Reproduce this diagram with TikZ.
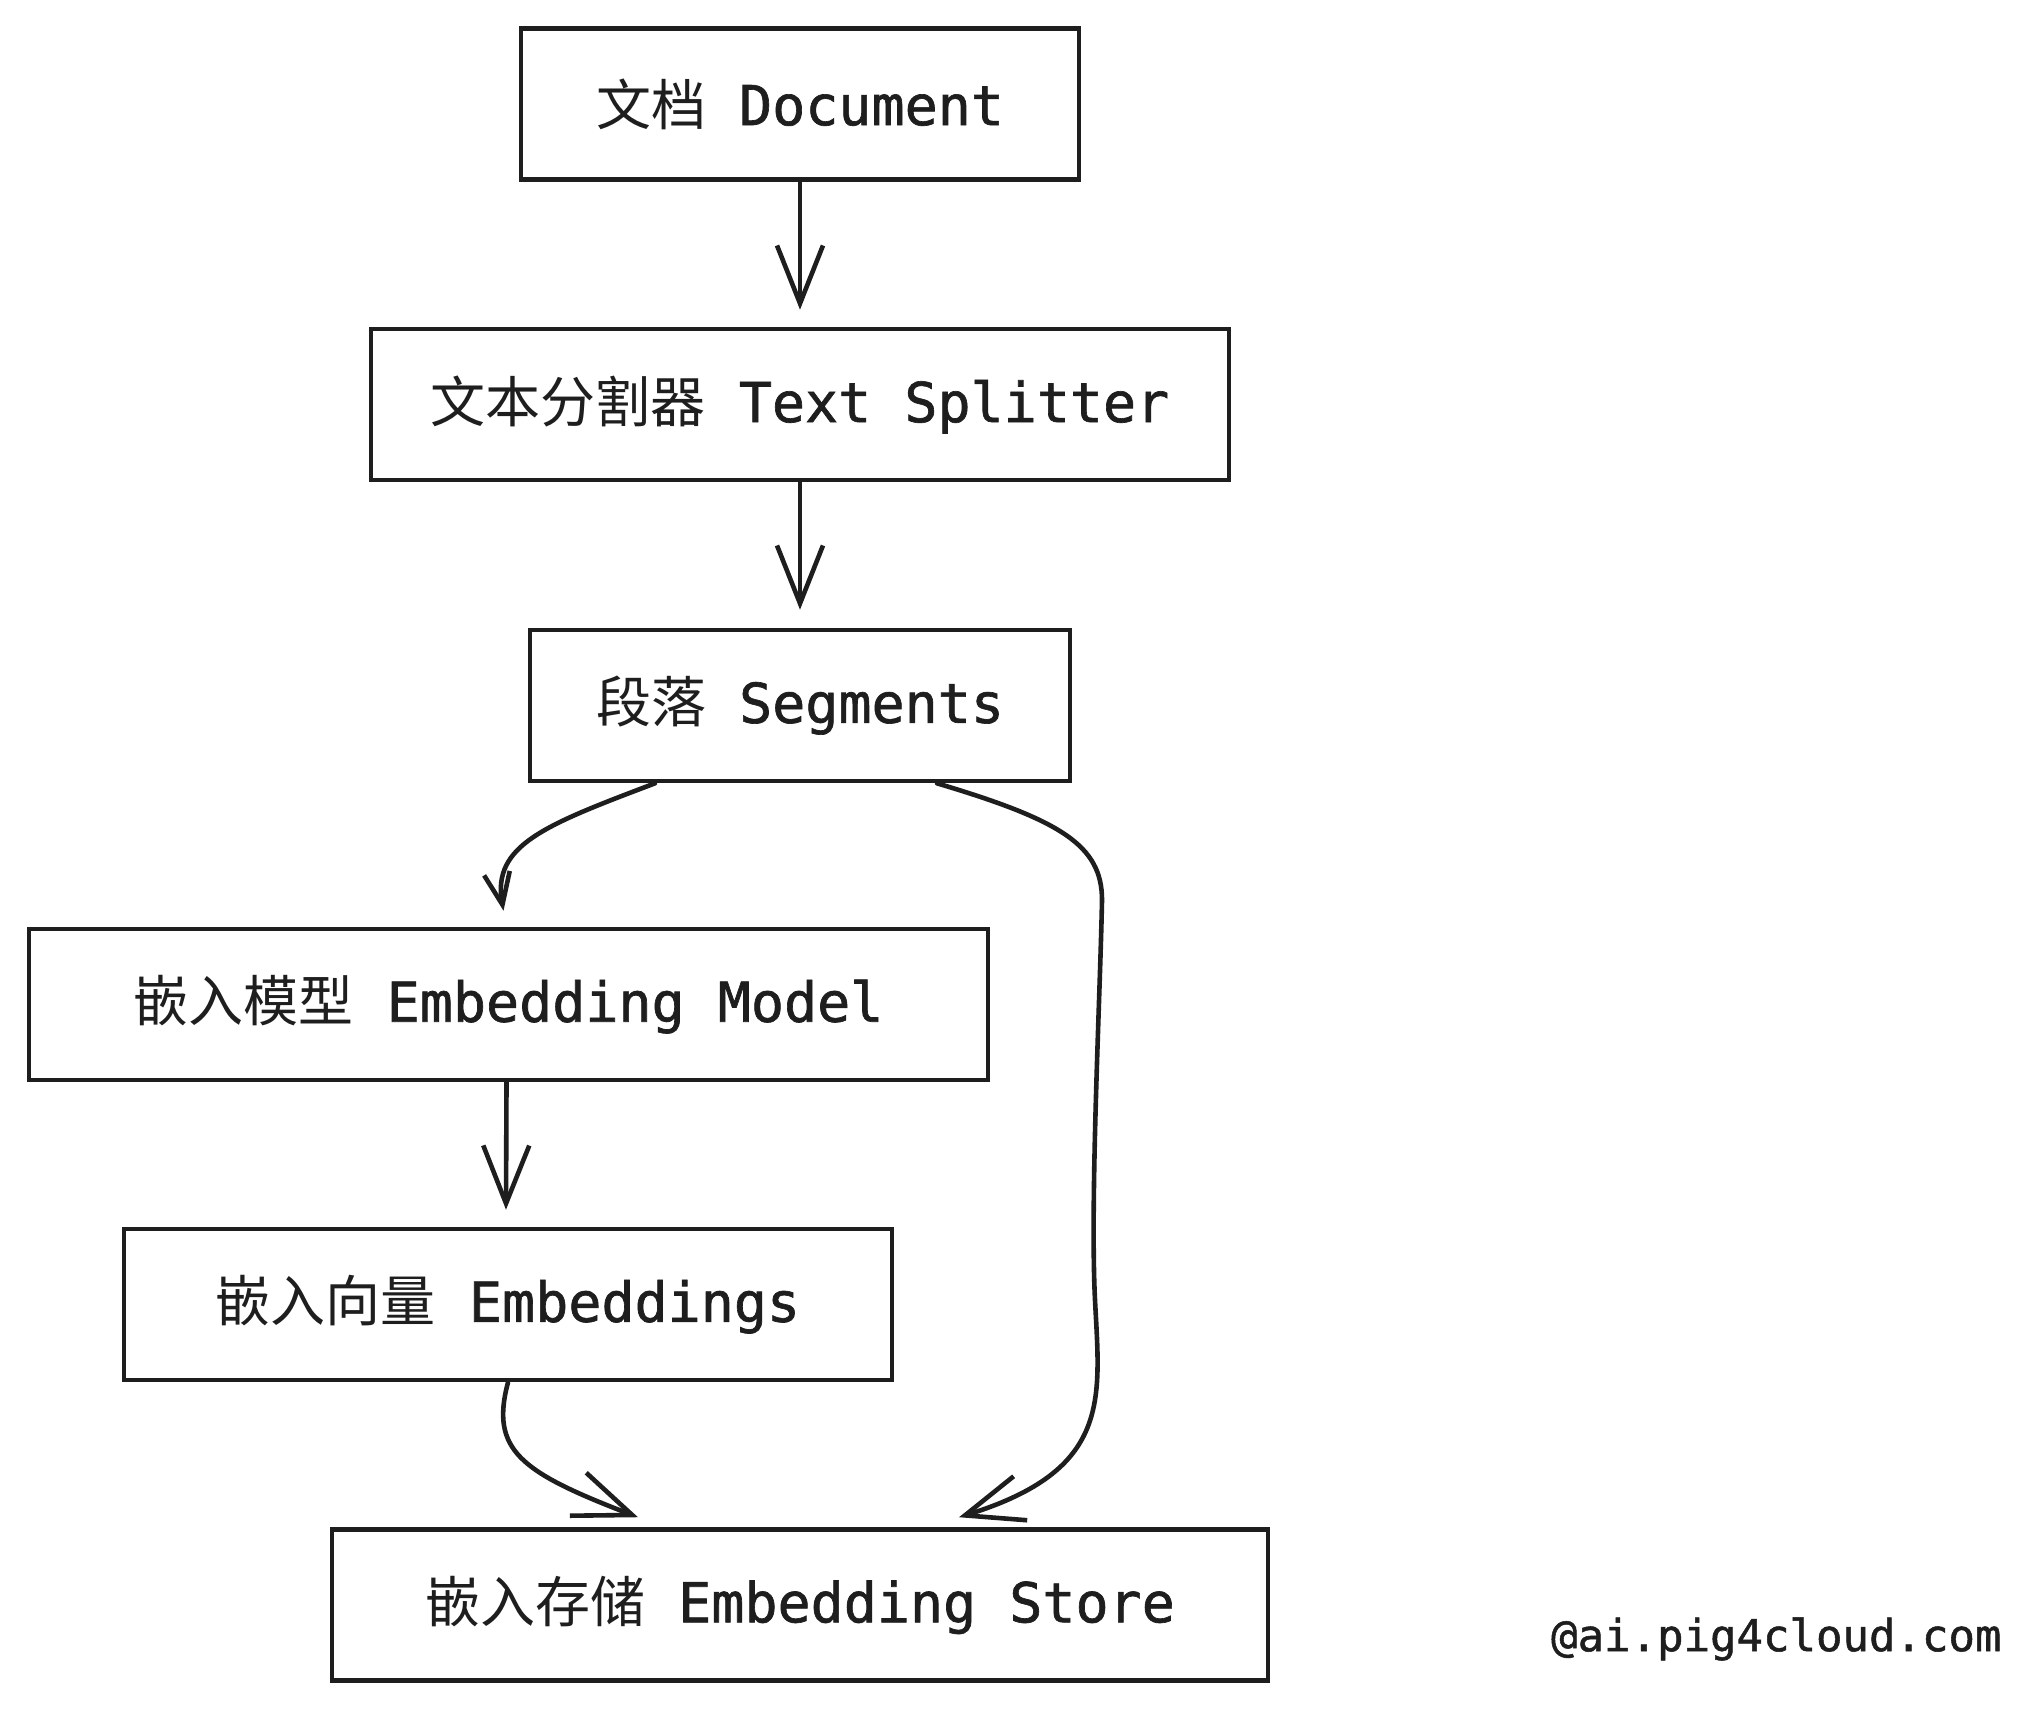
\documentclass[tikz,border=0pt]{standalone}
\usepackage{fontspec}
\setmonofont{DejaVu Sans Mono}[FakeBold=1.2]
\newfontfamily\cjk{Noto Sans CJK SC}
\usetikzlibrary{arrows.meta,calc}
\definecolor{ink}{HTML}{1E1E1E}
\begin{document}
\begin{tikzpicture}[x=1pt,y=-1pt,
  box/.style={draw=ink, line width=4.6pt, minimum width=#1, minimum height=151pt,
    inner sep=0pt, font=\fontsize{55}{60}\selectfont\ttfamily, text=ink},
  conn/.style={draw=ink, line width=4.6pt, line cap=round, line join=round,
    -{Straight Barb[length=58pt,width=46pt]}},
  connsmall/.style={draw=ink, line width=4.6pt, line cap=round, line join=round,
    -{Straight Barb[length=32pt,width=26pt]}}]
\useasboundingbox[fill=white] (0,0) rectangle (2033,1710);

\node[box=558pt]  (doc)   at (800,104)    {{\cjk 文档} Document};
\node[box=858pt]  (split) at (800,404.5)  {{\cjk 文本分割器} Text Splitter};
\node[box=540pt]  (seg)   at (800,705.5)  {{\cjk 段落} Segments};
\node[box=959pt]  (model) at (508.5,1004.5) {{\cjk 嵌入模型} Embedding Model};
\node[box=768pt]  (emb)   at (508,1304.5) {{\cjk 嵌入向量} Embeddings};
\node[box=936pt]  (store) at (800,1605)   {{\cjk 嵌入存储} Embedding Store};

\node[font=\fontsize{44}{48}\selectfont\ttfamily, text=ink, anchor=east] (wm) at (2005,1639) {@ai.pig4cloud.com};

\draw[conn] (doc.south) -- ($(split.north)+(0,-17)$);
\draw[conn] (split.south) -- ($(seg.north)+(0,-18)$);
\draw[conn] ($(model.south)+(-2,0)$) -- ($(emb.north)+(-2,-17)$);
\draw[connsmall] ($(seg.south)+(-145,0)$) .. controls (545,825) and (492,845) .. ($(model.north)+(-5,-16)$);
\draw[conn] (emb.south) .. controls (490,1450) and (520,1472) .. ($(store.north)+(-162,-10)$);
\draw[conn] ($(seg.south)+(137,0)$) .. controls (1060,820) and (1102,845) .. (1102,900)
  .. controls (1100,1000) and (1090,1200) .. (1095,1300)
  .. controls (1100,1400) and (1112,1470) .. ($(store.north)+(159,-10)$);
\end{tikzpicture}
\end{document}
